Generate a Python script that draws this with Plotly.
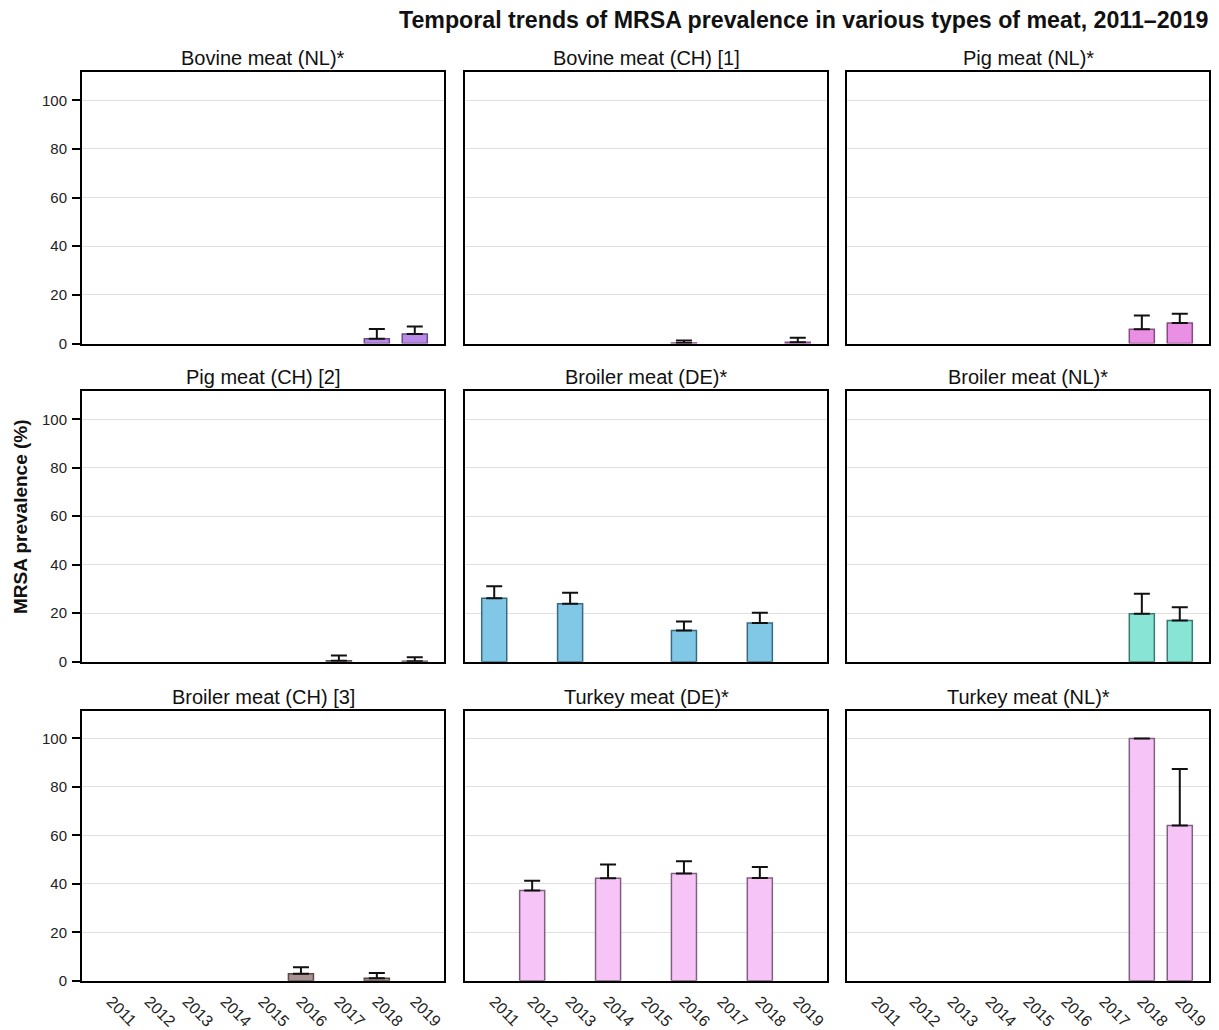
import plotly.graph_objects as go

years = ["2011", "2012", "2013", "2014", "2015", "2016", "2017", "2018", "2019"]

panel_titles = [
    "Bovine meat (NL)*", "Bovine meat (CH) [1]", "Pig meat (NL)*",
    "Pig meat (CH) [2]", "Broiler meat (DE)*", "Broiler meat (NL)*",
    "Broiler meat (CH) [3]", "Turkey meat (DE)*", "Turkey meat (NL)*",
]

# prevalence (%) and upper confidence limit (%) per year
bovine_nl = [None, None, None, None, None, None, None, 2.0, 3.9]
bovine_nl_upper = [None, None, None, None, None, None, None, 6.0, 7.0]
bovine_ch = [None, None, None, None, None, 0.2, None, None, 0.5]
bovine_ch_upper = [None, None, None, None, None, 1.3, None, None, 2.4]
pig_nl = [None, None, None, None, None, None, None, 5.9, 8.4]
pig_nl_upper = [None, None, None, None, None, None, None, 11.5, 12.3]
pig_ch = [None, None, None, None, None, None, 0.4, None, 0.2]
pig_ch_upper = [None, None, None, None, None, None, 2.5, None, 1.8]
broiler_de = [26.2, None, 23.9, None, None, 12.9, None, 16.0, None]
broiler_de_upper = [31.1, None, 28.4, None, None, 16.6, None, 20.2, None]
broiler_nl = [None, None, None, None, None, None, None, 19.8, 17.0]
broiler_nl_upper = [None, None, None, None, None, None, None, 28.0, 22.5]
broiler_ch = [None, None, None, None, None, 2.9, None, 1.1, None]
broiler_ch_upper = [None, None, None, None, None, 5.6, None, 3.2, None]
turkey_de = [None, 37.3, None, 42.3, None, 44.3, None, 42.4, None]
turkey_de_upper = [None, 41.3, None, 48.0, None, 49.3, None, 46.9, None]
turkey_nl = [None, None, None, None, None, None, None, 100.0, 64.1]
turkey_nl_upper = [None, None, None, None, None, None, None, 100.0, 87.4]

series = [
    (bovine_nl, bovine_nl_upper), (bovine_ch, bovine_ch_upper), (pig_nl, pig_nl_upper),
    (pig_ch, pig_ch_upper), (broiler_de, broiler_de_upper), (broiler_nl, broiler_nl_upper),
    (broiler_ch, broiler_ch_upper), (turkey_de, turkey_de_upper), (turkey_nl, turkey_nl_upper),
]

colors = ["#b98ae6", "#d58ad8", "#ea90e4", "#b0a0a0", "#80c8e6", "#88e4d4",
          "#a89292", "#f7c4f7", "#f7c4f7"]
edge = ["#6a4a8a", "#8a4a8a", "#8a4a80", "#605050", "#3a6a80", "#3a7a70",
        "#5a4848", "#806080", "#806080"]

title = "Temporal trends of MRSA prevalence in various types of meat, 2011\u20132019"
y_title = "MRSA prevalence (%)"
y_ticks = [0, 20, 40, 60, 80, 100]

W, H = 1219, 1030
SY, OY = 1.011, 0.5  # vertical compensation
col_px = [(82, 444), (465, 827), (847, 1209)]
row_px = [(72, 344), (392, 663), (712, 983)]
FONT = "Liberation Sans, Arial, sans-serif"


def py(v):
    return 1 - (v * SY + OY) / H


fig = go.Figure()
annotations = []
for i, ((vals, upper), ptitle) in enumerate(zip(series, panel_titles)):
    r, c = divmod(i, 3)
    n = i + 1
    xa = "x" if n == 1 else f"x{n}"
    ya = "y" if n == 1 else f"y{n}"
    err = [None if v is None else max(u - v, 0) for v, u in zip(vals, upper)]
    fig.add_trace(go.Bar(
        x=years, y=vals, xaxis=xa, yaxis=ya, width=0.66,
        marker=dict(color=colors[i], line=dict(color=edge[i], width=1.5)),
        error_y=dict(type="data", array=err, arrayminus=[0] * len(err), symmetric=False,
                     visible=True, color="#111111", thickness=2, width=8),
        showlegend=False, hoverinfo="x+y",
    ))
    x0, x1 = col_px[c]
    y0, y1 = row_px[r]
    xdom = [x0 / W, x1 / W]
    ydom = [py(y1), py(y0)]
    key_x = "xaxis" if n == 1 else f"xaxis{n}"
    key_y = "yaxis" if n == 1 else f"yaxis{n}"
    fig.layout[key_x] = dict(
        domain=xdom, anchor=ya, type="category", categoryorder="array", categoryarray=years,
        range=[-0.77, 8.77], showline=True, linecolor="black", linewidth=2, mirror=True,
        showgrid=False, ticks="", showticklabels=(r == 2), tickangle=45,
        ticklabelstandoff=3,
        tickfont=dict(family=FONT, size=16, color="#222222"), fixedrange=True,
    )
    fig.layout[key_y] = dict(
        domain=ydom, anchor=xa, range=[0, 111.5], tickvals=y_ticks,
        showline=True, linecolor="black", linewidth=2, mirror=True,
        showgrid=True, gridcolor="#e0e0e0", gridwidth=1.3, zeroline=False,
        ticks="outside" if c == 0 else "", ticklen=8, tickwidth=1.5, tickcolor="black",
        ticklabelstandoff=2,
        showticklabels=(c == 0), tickfont=dict(family=FONT, size=15, color="#222222"),
        fixedrange=True,
    )
    annotations.append(dict(
        text=ptitle, x=(x0 + x1) / 2 / W, y=py(y0 - 14), xref="paper", yref="paper",
        xanchor="center", yanchor="middle", showarrow=False,
        font=dict(family=FONT, size=20, color="#111111"),
    ))

annotations.append(dict(
    text=f"<b>{title}</b>", x=1210 / W, y=py(20), xref="paper", yref="paper",
    xanchor="right", yanchor="middle", showarrow=False,
    font=dict(family=FONT, size=23.2, color="#111111"),
))
annotations.append(dict(
    text=f"<b>{y_title}</b>", x=20 / W, y=py(518), xref="paper", yref="paper",
    xanchor="center", yanchor="middle", showarrow=False, textangle=-90,
    font=dict(family=FONT, size=19, color="#111111"),
))

fig.update_layout(
    width=W, height=H, margin=dict(l=0, r=0, t=0, b=0),
    paper_bgcolor="white", plot_bgcolor="white",
    annotations=annotations, bargap=0.3,
)

post = (
    "document.documentElement.style.margin='0';"
    "document.documentElement.style.overflow='hidden';"
    "document.body.style.margin='0';"
    "document.body.style.overflow='hidden';"
    "document.body.style.height='1030px';"
    "var d=document.getElementById('{plot_id}');"
    "d.style.display='block';"
    "if(d.parentElement){d.parentElement.style.display='block';d.parentElement.style.lineHeight='0';}"
)
fig.write_html("out.html", config={"displayModeBar": False}, post_script=post)
